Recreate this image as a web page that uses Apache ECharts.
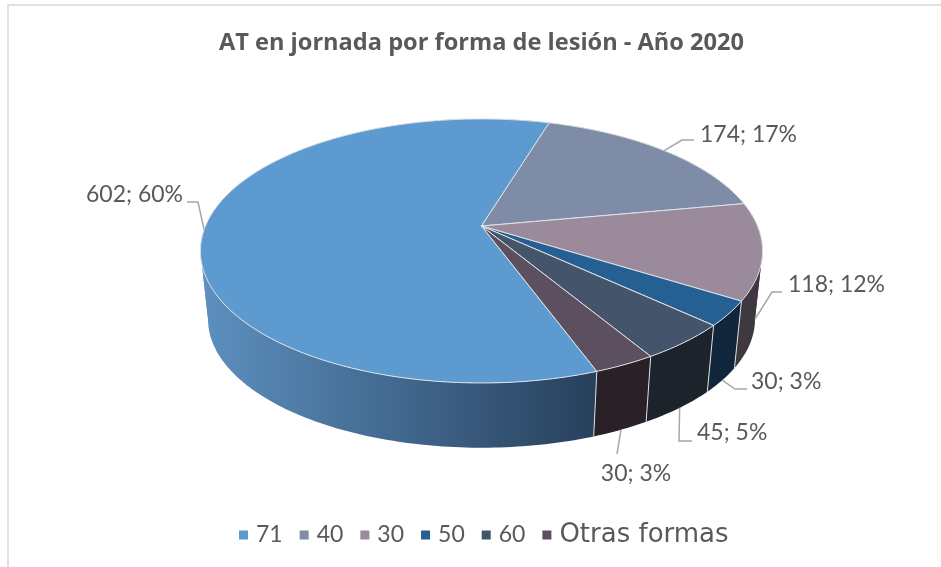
<!DOCTYPE html>
<html>
<head>
<meta charset="utf-8">
<style>html,body{margin:0;padding:0;background:#fff}#chart{width:941px;height:567px}</style>
<script src="https://cdn.jsdelivr.net/npm/echarts@6/dist/echarts.min.js"></script>
</head>
<body>
<div id="chart"></div>
<script>
var categories = ['71', '40', '30', '50', '60', 'Otras formas'];
var values = [602, 174, 118, 30, 45, 30];
var topColors = ['#5d9ad0', '#7e8ca8', '#9a8a9c', '#265f91', '#44546a', '#5b4f60'];
var sideColors = ['#5d90c0', '#4c5769', '#3f3840', '#11263a', '#1c232a', '#2a2028'];

// where each label and its elbow go, the rim end of the leader comes from the slice angle
var labelX = [183, 700, 788, 751, 697, 636];
var labelY = [195, 135, 285, 382, 433, 474];
var labelAlign = ['right', 'left', 'left', 'left', 'left', 'center'];
var elbows = [
    [[198, 202], [187, 202]],
    [[682, 140], [694, 140]],
    [[772, 292], [782, 292]],
    [[735, 389], [747, 389]],
    [[679, 441], [692, 441]],
    [[617, 454]]
];
var leaderOnSide = [false, false, true, true, true, true];

// pie geometry, a flat disc seen in perspective
var cx = 481.5, apexY = 226;
var rx = 276, ry = 127.3, persp = 0.189;
var sideDrop = 69, sideScale = 0.973;
var firstAngle = 159.9;
var foldAngles = [100.9, 259.1, 460.9]; // where the rim turns back, the side folds over here

var total = 0;
values.forEach(function (v) { total += v; });

function rimPoint(deg, lower) {
    var a = deg * Math.PI / 180;
    var u = Math.sin(a), v = -Math.cos(a);
    var w = 1 - persp * v;
    var s = lower ? sideScale : 1;
    return [cx + s * rx * u / w, apexY + (lower ? sideDrop : 0) + s * ry * v / w];
}

function arcPoints(from, to, lower) {
    var pts = [];
    var n = Math.ceil(to - from);
    for (var i = 0; i <= n; i++) {
        pts.push(rimPoint(from + (to - from) * i / n, lower));
    }
    return pts;
}

function sliceStart(idx) {
    var sum = 0;
    for (var i = 0; i < idx; i++) sum += values[i];
    return firstAngle + sum / total * 360;
}

function sideParts(from, to, fill) {
    var cuts = [from];
    foldAngles.forEach(function (f) {
        if (f > from && f < to) cuts.push(f);
    });
    cuts.push(to);
    var parts = [];
    for (var i = 0; i < cuts.length - 1; i++) {
        parts.push({
            type: 'polygon', z2: 1,
            shape: {points: arcPoints(cuts[i], cuts[i + 1], false).concat(arcPoints(cuts[i], cuts[i + 1], true).reverse())},
            style: {fill: fill}
        });
    }
    return parts;
}

function makeRenderItem(idx) {
    return function (params, api) {
        var value = api.value(0);
        var from = sliceStart(idx);
        var to = from + value / total * 360;
        var mid = (from + to) / 2;

        var sideFill = sideColors[idx];
        if (idx === 0) {
            sideFill = {
                type: 'linear', x: 200, y: 0, x2: 596, y2: 0, global: true,
                colorStops: [
                    {offset: 0, color: '#5d90c0'},
                    {offset: 1, color: '#27405c'}
                ]
            };
        }

        var topPts = [[cx, apexY]].concat(arcPoints(from, to, false));
        var a0 = rimPoint(from, false), a1 = rimPoint(from, true);

        var line = [rimPoint(mid, leaderOnSide[idx])].concat(elbows[idx]);
        var pct = Math.round(value / total * 100);

        return {
            type: 'group',
            children: sideParts(from, to, sideFill).concat([
                {type: 'line', z2: 2, shape: {x1: a0[0], y1: a0[1], x2: a1[0], y2: a1[1]}, style: {stroke: '#d8dce0', lineWidth: 1}},
                {type: 'polygon', z2: 10, shape: {points: topPts}, style: {fill: api.visual('color'), stroke: '#dfe3e8', lineWidth: 1}},
                {type: 'polyline', z2: 20, shape: {points: line}, style: {fill: 'none', stroke: '#a6a6a6', lineWidth: 1.5}},
                {
                    type: 'text', z2: 21,
                    style: {
                        x: labelX[idx], y: labelY[idx], text: value + '; ' + pct + '%',
                        fill: '#595959', font: '23px Lato',
                        textAlign: labelAlign[idx], textVerticalAlign: 'middle'
                    }
                }
            ])
        };
    };
}

var series = categories.map(function (name, i) {
    return {
        type: 'custom',
        name: name,
        coordinateSystem: 'none',
        silent: true,
        animation: false,
        itemStyle: {color: topColors[i]},
        data: [[values[i]]],
        renderItem: makeRenderItem(i)
    };
});

var legendData = categories.map(function (name) {
    // the long name needs the wider face to fill its place
    var wide = name.length > 2;
    return {name: name, textStyle: {fontFamily: wide ? 'DejaVu Sans' : 'Lato', fontSize: wide ? 26 : 23, color: '#595959', padding: [0, 0, 0, 3]}};
});

var chart = echarts.init(document.getElementById('chart'));
chart.setOption({
    backgroundColor: '#fff',
    animation: false,
    title: {
        text: 'AT en jornada por forma de lesión - Año 2020',
        left: 476.5, top: 26, textAlign: 'center',
        textStyle: {fontFamily: 'Open Sans', fontWeight: 'bold', fontSize: 23.6, color: '#595959'}
    },
    legend: {
        data: legendData,
        left: 239, top: 522, padding: 0,
        icon: 'rect', itemWidth: 9, itemHeight: 9, itemGap: 17
    },
    graphic: [{
        type: 'polyline',
        shape: {points: [[8, 567], [8, 5], [941, 5]]},
        style: {fill: 'none', stroke: '#d9d9d9', lineWidth: 1.5}
    }],
    series: series
});
</script>
</body>
</html>
